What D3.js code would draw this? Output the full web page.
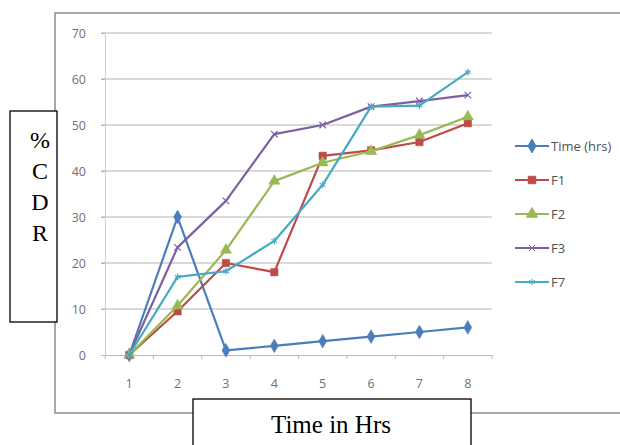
<!DOCTYPE html>
<html>
<head>
<meta charset="utf-8">
<script src="https://cdn.jsdelivr.net/npm/d3@7"></script>
<style>
  body { margin: 0; background: #fff; }
  svg { display: block; }
</style>
</head>
<body>
<svg id="chart" width="620" height="445"></svg>
<script>
// values
var hours = ['1', '2', '3', '4', '5', '6', '7', '8']
var yTicks = [0, 10, 20, 30, 40, 50, 60, 70]
var seriesNames = ['Time (hrs)', 'F1', 'F2', 'F3', 'F7']
var timeHrs = [0, 30, 1, 2, 3, 4, 5, 6]
var f1 = [0, 9.5, 20, 18, 43.3, 44.5, 46.3, 50.4]
var f2 = [0, 10.7, 22.8, 37.8, 41.8, 44.3, 47.8, 51.8]
var f3 = [0, 23.4, 33.5, 48, 50, 54, 55.2, 56.5]
var f7 = [0, 17, 18.2, 24.8, 37, 54, 54.2, 61.5]
var colors = ['#4a7ebb', '#be4b48', '#98b954', '#7d60a0', '#46aac5']
var symbols = [d3.symbolDiamond, d3.symbolSquare, d3.symbolTriangle, d3.symbolX, d3.symbolAsterisk]

var series = seriesNames.map(function (name, i) {
  return { name: name, values: [timeHrs, f1, f2, f3, f7][i], color: colors[i], symbol: symbols[i] }
})

var svg = d3.select('#chart')
var labelFont = 'Open Sans, sans-serif'

// chart frame
svg.append('rect')
  .attr('x', 55).attr('y', 13)
  .attr('width', 600).attr('height', 400)
  .attr('fill', '#fff')
  .attr('stroke', '#8c8c8c')
  .attr('stroke-width', 1.5)

var plot = { left: 105, right: 492, top: 33, bottom: 355 }

var xScale = d3.scaleBand().domain(hours).range([plot.left, plot.right])
var yScale = d3.scaleLinear().domain([0, 70]).range([plot.bottom, plot.top])
var cx = function (d, i) { return xScale(hours[i]) + xScale.bandwidth() / 2 }

// gridlines
svg.append('g')
  .selectAll('line')
  .data(yTicks.slice(1))
  .join('line')
  .attr('x1', plot.left - 4).attr('x2', plot.right)
  .attr('y1', function (d) { return yScale(d) })
  .attr('y2', function (d) { return yScale(d) })
  .attr('stroke', '#b4b4b4')
  .attr('stroke-width', 1.2)

// y axis
var yAxis = svg.append('g')
  .attr('transform', 'translate(' + plot.left + ',0)')
  .call(d3.axisLeft(yScale).tickValues(yTicks).tickSize(4).tickPadding(15))
yAxis.select('.domain').attr('stroke', '#cccccc')
yAxis.selectAll('.tick line').attr('stroke', '#b4b4b4')
yAxis.selectAll('text')
  .attr('fill', '#707070')
  .style('font-family', labelFont)
  .style('font-size', '12.5px')

// x axis, ticks between the categories
var xAxis = svg.append('g')
  .attr('transform', 'translate(0,' + plot.bottom + ')')
  .call(d3.axisBottom(xScale).tickSize(0).tickPadding(24))
xAxis.select('.domain').attr('stroke', '#b8b8b8').attr('stroke-width', 1.2)
xAxis.selectAll('text')
  .attr('fill', '#707070')
  .style('font-family', labelFont)
  .style('font-size', '12.5px')
svg.append('g')
  .selectAll('line')
  .data(hours.concat(['end']))
  .join('line')
  .attr('x1', function (d, i) { return plot.left + i * xScale.step() })
  .attr('x2', function (d, i) { return plot.left + i * xScale.step() })
  .attr('y1', plot.bottom)
  .attr('y2', plot.bottom + 4)
  .attr('stroke', '#b8b8b8')

// lines and markers
var line = d3.line()
  .x(cx)
  .y(function (d) { return yScale(d) })

var groups = svg.append('g')
  .selectAll('g')
  .data(series)
  .join('g')

groups.append('path')
  .attr('d', function (s) { return line(s.values) })
  .attr('fill', 'none')
  .attr('stroke', function (s) { return s.color })
  .attr('stroke-width', 2.2)
  .attr('stroke-linejoin', 'round')

function markerSize (sym) {
  return sym === d3.symbolX || sym === d3.symbolAsterisk ? 30 : 55
}

groups.each(function (s) {
  var open = s.symbol === d3.symbolAsterisk || s.symbol === d3.symbolX
  d3.select(this).selectAll('path.marker')
    .data(s.values)
    .join('path')
    .attr('class', 'marker')
    .attr('transform', function (d, i) { return 'translate(' + cx(d, i) + ',' + yScale(d) + ')' })
    .attr('d', d3.symbol().type(s.symbol).size(markerSize(s.symbol)))
    .attr('fill', open ? 'none' : s.color)
    .attr('stroke', s.color)
    .attr('stroke-width', open ? 1.2 : 0.5)
})

// legend
var legend = svg.append('g')
  .selectAll('g')
  .data(series)
  .join('g')
  .attr('transform', function (s, i) { return 'translate(515,' + (146 + i * 34) + ')' })

legend.append('line')
  .attr('x1', 0).attr('x2', 34)
  .attr('stroke', function (s) { return s.color })
  .attr('stroke-width', 2.2)
legend.append('path')
  .attr('transform', 'translate(17,0)')
  .attr('d', function (s) { return d3.symbol().type(s.symbol).size(markerSize(s.symbol))() })
  .attr('fill', function (s) { return s.symbol === d3.symbolAsterisk || s.symbol === d3.symbolX ? 'none' : s.color })
  .attr('stroke', function (s) { return s.color })
  .attr('stroke-width', 1)
legend.append('text')
  .attr('x', 36)
  .attr('dy', '0.35em')
  .attr('fill', '#505050')
  .style('font-family', labelFont)
  .style('font-size', '13px')
  .text(function (s) { return s.name })

// boxed axis titles
var serif = 'Liberation Serif, Times New Roman, serif'
svg.append('rect')
  .attr('x', 10).attr('y', 111)
  .attr('width', 47).attr('height', 211)
  .attr('fill', '#fff').attr('stroke', '#000').attr('stroke-width', 1.3)
svg.append('g')
  .selectAll('text')
  .data(['%', 'C', 'D', 'R'])
  .join('text')
  .attr('x', 40)
  .attr('y', function (d, i) { return 148 + i * 31 })
  .attr('text-anchor', 'middle')
  .style('font-family', serif)
  .style('font-size', '24px')
  .text(function (d) { return d })

svg.append('rect')
  .attr('x', 193).attr('y', 399)
  .attr('width', 278).attr('height', 60)
  .attr('fill', '#fff').attr('stroke', '#000').attr('stroke-width', 1.3)
svg.append('text')
  .attr('x', 331).attr('y', 433)
  .attr('text-anchor', 'middle')
  .style('font-family', serif)
  .style('font-size', '25px')
  .text('Time in Hrs')
</script>
</body>
</html>
